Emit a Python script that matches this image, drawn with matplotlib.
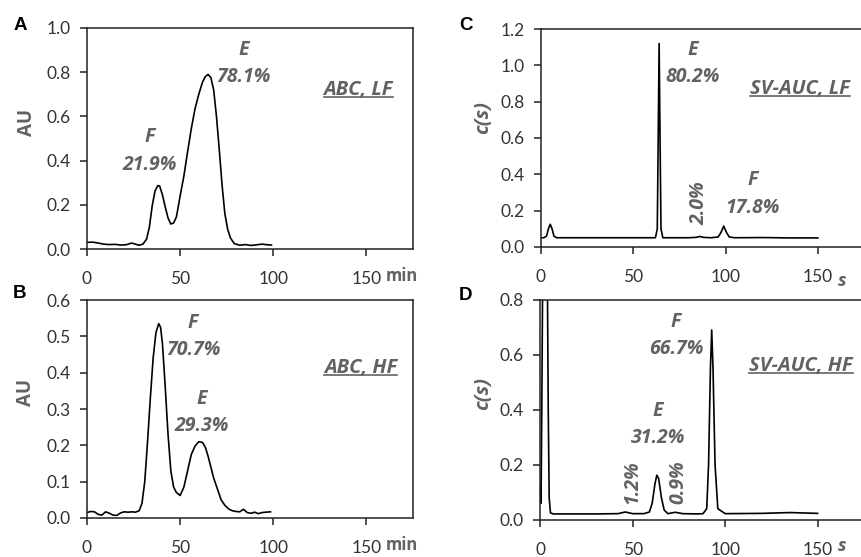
import matplotlib
matplotlib.use("Agg")
import matplotlib.pyplot as plt
from matplotlib.ticker import FormatStrFormatter
from matplotlib.lines import Line2D

plt.rcParams['font.family'] = ['Lato', 'DejaVu Sans']

# panel A: ABC, low fraction (AU vs min)
abc_lf_x = [0, 3, 6, 9, 12, 15, 18, 21, 24, 26, 28, 30, 32, 33.5, 35, 36.5, 38, 39, 40.5, 42, 43.5,
            45, 46.5, 48, 50, 52, 54, 56, 58, 60, 62, 63.5, 65, 66.5, 68, 69.5, 71, 72.5, 74, 75.5,
            77, 79, 82, 85, 88, 91, 94, 97, 99]
abc_lf_y = [0.030, 0.031, 0.027, 0.022, 0.020, 0.021, 0.018, 0.019, 0.027, 0.022, 0.017, 0.022, 0.045,
            0.10, 0.195, 0.262, 0.287, 0.285, 0.245, 0.19, 0.14, 0.113, 0.118, 0.145, 0.24, 0.33,
            0.44, 0.545, 0.635, 0.70, 0.755, 0.78, 0.79, 0.775, 0.72, 0.60, 0.45, 0.29, 0.16, 0.09,
            0.05, 0.025, 0.017, 0.020, 0.016, 0.019, 0.022, 0.019, 0.018]

# panel B: ABC, high fraction
abc_hf_x = [0, 2, 4, 6, 8, 10, 12, 14, 16, 18, 20, 22, 24, 26, 28, 29.5, 31, 32.5, 34, 35.5, 37,
            38.5, 39.5, 40.5, 42, 43.5, 45, 46.5, 48, 50, 52, 54, 56, 58, 60, 62, 63.5, 65, 66.5,
            68, 70, 72, 74, 76, 78, 80, 82, 84, 86, 88, 90, 92, 94, 96, 98.5]
abc_hf_y = [0.015, 0.018, 0.017, 0.010, 0.008, 0.017, 0.013, 0.008, 0.007, 0.014, 0.017, 0.016,
            0.017, 0.016, 0.020, 0.040, 0.10, 0.21, 0.33, 0.44, 0.51, 0.535, 0.525, 0.48, 0.36,
            0.23, 0.13, 0.085, 0.070, 0.062, 0.085, 0.13, 0.175, 0.198, 0.21, 0.208, 0.195, 0.17,
            0.14, 0.11, 0.08, 0.05, 0.035, 0.025, 0.020, 0.018, 0.017, 0.024, 0.015, 0.013, 0.016,
            0.012, 0.015, 0.016, 0.017]

# panel C: SV-AUC, low fraction (c(s) vs s)
sv_lf_x = [0, 1.5, 3, 4, 5, 6, 7, 8.5, 30, 62, 63, 63.5, 64, 64.5, 65, 66, 80, 84, 86, 88, 92, 96,
           97.5, 99, 100.5, 102, 105, 120, 135, 150]
sv_lf_y = [0.050, 0.051, 0.060, 0.10, 0.125, 0.10, 0.060, 0.051, 0.051, 0.051, 0.10, 0.60, 1.12,
           0.60, 0.10, 0.051, 0.051, 0.053, 0.058, 0.053, 0.051, 0.055, 0.080, 0.115, 0.080, 0.055,
           0.051, 0.052, 0.050, 0.050]

# panel D: SV-AUC, high fraction
sv_hf_x = [0, 0.4, 0.8, 1.3, 2, 3, 3.8, 4.3, 4.8, 5.5, 7, 30, 42, 46, 50, 56, 59, 60.5, 62, 63, 64,
           65.5, 67, 69, 73, 77, 85, 88, 90, 91, 92, 92.7, 93.4, 94.5, 96, 100, 120, 135, 150]
sv_hf_y = [0.12, 0.06, 0.40, 0.90, 1.50, 1.60, 0.90, 0.40, 0.08, 0.025, 0.021, 0.021, 0.022, 0.028,
           0.022, 0.022, 0.028, 0.060, 0.13, 0.162, 0.15, 0.080, 0.035, 0.022, 0.027, 0.022,
           0.021, 0.022, 0.040, 0.20, 0.55, 0.69, 0.55, 0.20, 0.040, 0.022, 0.023, 0.026, 0.023]

x_ticks = [0, 50, 100, 150]

W, H = 862, 557
GREY = '#626262'
TICK = '#333333'
BOLD = ['Open Sans', 'DejaVu Sans']

fig = plt.figure(figsize=(W / 100, H / 100), dpi=100)


def px_axes(left, top, right, bottom):
    return fig.add_axes([left / W, 1 - bottom / H, (right - left) / W, (bottom - top) / H])


def style(ax, ymax, ystep):
    ax.set_xlim(0, 175)
    ax.set_ylim(0, ymax)
    ax.set_xticks(x_ticks)
    yt = [round(i * ystep, 2) for i in range(int(round(ymax / ystep)) + 1)]
    ax.set_yticks(yt)
    ax.yaxis.set_major_formatter(FormatStrFormatter('%.1f'))
    for s in ax.spines.values():
        s.set_linewidth(1.1)
        s.set_color('#222222')
    ax.tick_params(direction='out', length=5, width=1.1, color='#222222',
                   labelcolor=TICK, labelsize=12.5)
    ax.tick_params(axis='x', pad=11)
    ax.tick_params(axis='y', pad=7)


def note(ax, x, y, s, rot=0):
    ax.text(x, y, s, ha='center', va='center', fontsize=14, fontweight='bold',
            fontstyle='italic', color=GREY, rotation=rot, family=BOLD)


axA = px_axes(87, 28, 413, 249)
axB = px_axes(87, 300, 413, 518)
axC = px_axes(541, 29, 864, 247)
axD = px_axes(540.3, 299.7, 863.9, 519.7)

axA.plot(abc_lf_x, abc_lf_y, color='black', lw=1.2)
axB.plot(abc_hf_x, abc_hf_y, color='black', lw=1.2)
axC.plot(sv_lf_x, sv_lf_y, color='black', lw=1.2)
axD.plot(sv_hf_x, sv_hf_y, color='black', lw=1.2)

style(axA, 1.0, 0.2)
style(axB, 0.6, 0.1)
style(axC, 1.2, 0.2)
style(axD, 0.8, 0.2)

note(axA, 84, 0.90, 'E')
note(axA, 84, 0.78, '78.1%')
note(axA, 33.6, 0.507, 'F')
note(axA, 33.6, 0.38, '21.9%')

note(axB, 56.6, 0.537, 'F')
note(axB, 57.3, 0.462, '70.7%')
note(axB, 61.5, 0.328, 'E')
note(axB, 61.5, 0.253, '29.3%')

note(axC, 82.3, 1.084, 'E')
note(axC, 82.3, 0.935, '80.2%')
note(axC, 85.6, 0.24, '2.0%', rot=90)
note(axC, 114.8, 0.37, 'F')
note(axC, 114.8, 0.215, '17.8%')

note(axD, 73.4, 0.72, 'F')
note(axD, 73.4, 0.62, '66.7%')
note(axD, 63.7, 0.395, 'E')
note(axD, 63.7, 0.297, '31.2%')
note(axD, 49.6, 0.137, '1.2%', rot=90)
note(axD, 74.4, 0.137, '0.9%', rot=90)

tags = []
for ax, x, y, s in [(axA, 145.6, 0.72, 'ABC, LF'), (axB, 147, 0.413, 'ABC, HF'),
                    (axC, 140.3, 0.87, 'SV-AUC, LF'), (axD, 140.9, 0.56, 'SV-AUC, HF')]:
    tags.append(ax.text(x, y, s, ha='center', va='center', fontsize=14.5, fontweight='bold',
                        fontstyle='italic', color=GREY, family=BOLD))

# axis titles and units
fig.text(27 / W, 1 - 122 / H, 'AU', rotation=90, ha='center', va='center',
         fontsize=13.5, fontweight='bold', color=GREY, family=BOLD)
fig.text(26 / W, 1 - 392 / H, 'AU', rotation=90, ha='center', va='center',
         fontsize=13.5, fontweight='bold', color=GREY, family=BOLD)
fig.text(483 / W, 1 - 118 / H, 'c(s)', rotation=90, ha='center', va='center',
         fontsize=14.5, fontweight='bold', fontstyle='italic', color=GREY, family=BOLD)
fig.text(483 / W, 1 - 394 / H, 'c(s)', rotation=90, ha='center', va='center',
         fontsize=14.5, fontweight='bold', fontstyle='italic', color=GREY, family=BOLD)
fig.text(402 / W, 1 - 276 / H, 'min', ha='center', va='center',
         fontsize=12, fontweight='bold', color=GREY, family=BOLD)
fig.text(402 / W, 1 - 545 / H, 'min', ha='center', va='center',
         fontsize=12, fontweight='bold', color=GREY, family=BOLD)
fig.text(842 / W, 1 - 281 / H, 's', ha='center', va='center',
         fontsize=13, fontweight='bold', fontstyle='italic', color=GREY, family=BOLD)
fig.text(842 / W, 1 - 546 / H, 's', ha='center', va='center',
         fontsize=13, fontweight='bold', fontstyle='italic', color=GREY, family=BOLD)

for s, x, y in [('A', 20, 25), ('B', 20, 293), ('C', 466, 25), ('D', 466, 295)]:
    fig.text(x / W, 1 - y / H, s, ha='center', va='center', fontsize=13.5,
             fontweight='bold', color='black', family='Liberation Sans')

# underline the method tags
fig.canvas.draw()
r = fig.canvas.get_renderer()
for t in tags:
    bb = t.get_window_extent(r)
    y0 = bb.y0 + 3
    fig.add_artist(Line2D([bb.x0 / W, bb.x1 / W], [y0 / H, y0 / H],
                          transform=fig.transFigure, color=GREY, lw=1.2))

fig.savefig('out.png', dpi=100)
